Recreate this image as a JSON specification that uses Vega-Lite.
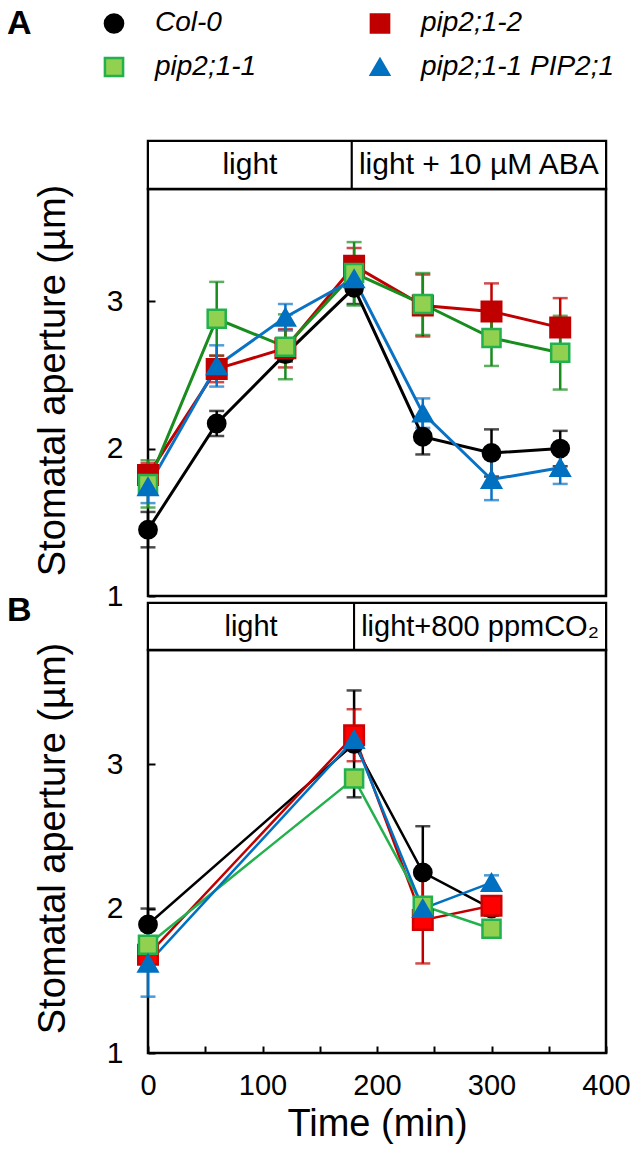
{
  "$schema": "https://vega.github.io/schema/vega-lite/v6.json",
  "padding": {"left": 5, "top": 5, "right": 5, "bottom": 5},
  "background": "white",
  "config": {
    "font": "Liberation Sans",
    "view": {"stroke": "black", "strokeWidth": 2.5},
    "axis": {"domain": false, "grid": false, "labelFlush": false, "tickColor": "black", "tickWidth": 2, "tickSize": -7, "labelFont": "Liberation Sans", "labelFontSize": 30, "labelColor": "black", "titleFont": "Liberation Sans", "titleFontSize": 38, "titleFontWeight": "normal", "titleColor": "black"},
    "title": {"font": "Liberation Sans", "fontSize": 34, "fontWeight": "bold", "color": "black", "anchor": "start", "frame": "group"}
  },
  "datasets": {
    "headA": [
      {"label": "light", "start": 0, "end": 178},
      {"label": "light + 10 µM ABA", "start": 178, "end": 400}
    ],
    "headB": [
      {"label": "light", "start": 0, "end": 180},
      {"label": "light+800 ppmCO₂", "start": 180, "end": 400}
    ],
    "plotA": [
      {"g": "Col-0", "t": 0, "m": 1.45, "lo": 1.33, "hi": 1.57},
      {"g": "Col-0", "t": 60, "m": 2.17, "lo": 2.085, "hi": 2.255},
      {"g": "Col-0", "t": 120, "m": 2.64, "lo": 2.59, "hi": 2.69},
      {"g": "Col-0", "t": 180, "m": 3.09, "lo": 2.98, "hi": 3.2},
      {"g": "Col-0", "t": 240, "m": 2.08, "lo": 1.96, "hi": 2.2},
      {"g": "Col-0", "t": 300, "m": 1.97, "lo": 1.81, "hi": 2.13},
      {"g": "Col-0", "t": 360, "m": 2.0, "lo": 1.88, "hi": 2.12},
      {"g": "pip2;1-2", "t": 0, "m": 1.82, "lo": 1.74, "hi": 1.9},
      {"g": "pip2;1-2", "t": 60, "m": 2.54, "lo": 2.45, "hi": 2.63},
      {"g": "pip2;1-2", "t": 120, "m": 2.68, "lo": 2.55, "hi": 2.81},
      {"g": "pip2;1-2", "t": 180, "m": 3.24, "lo": 3.12, "hi": 3.36},
      {"g": "pip2;1-2", "t": 240, "m": 2.97, "lo": 2.76, "hi": 3.18},
      {"g": "pip2;1-2", "t": 300, "m": 2.93, "lo": 2.74, "hi": 3.12},
      {"g": "pip2;1-2", "t": 360, "m": 2.82, "lo": 2.62, "hi": 3.02},
      {"g": "pip2;1-1", "t": 0, "m": 1.76, "lo": 1.6, "hi": 1.92},
      {"g": "pip2;1-1", "t": 60, "m": 2.88, "lo": 2.63, "hi": 3.13},
      {"g": "pip2;1-1", "t": 120, "m": 2.69, "lo": 2.47, "hi": 2.91},
      {"g": "pip2;1-1", "t": 180, "m": 3.19, "lo": 2.97, "hi": 3.4},
      {"g": "pip2;1-1", "t": 240, "m": 2.98, "lo": 2.77, "hi": 3.19},
      {"g": "pip2;1-1", "t": 300, "m": 2.75, "lo": 2.56, "hi": 2.94},
      {"g": "pip2;1-1", "t": 360, "m": 2.65, "lo": 2.4, "hi": 2.9},
      {"g": "pip2;1-1 PIP2;1", "t": 0, "m": 1.74, "lo": 1.63, "hi": 1.85},
      {"g": "pip2;1-1 PIP2;1", "t": 60, "m": 2.56, "lo": 2.42, "hi": 2.7},
      {"g": "pip2;1-1 PIP2;1", "t": 120, "m": 2.89, "lo": 2.8, "hi": 2.98},
      {"g": "pip2;1-1 PIP2;1", "t": 180, "m": 3.15, "lo": 3.1, "hi": 3.2},
      {"g": "pip2;1-1 PIP2;1", "t": 240, "m": 2.24, "lo": 2.14, "hi": 2.34},
      {"g": "pip2;1-1 PIP2;1", "t": 300, "m": 1.79, "lo": 1.65, "hi": 1.93},
      {"g": "pip2;1-1 PIP2;1", "t": 360, "m": 1.87, "lo": 1.76, "hi": 1.98}
    ],
    "plotB": [
      {"g": "Col-0", "t": 0, "m": 1.89, "lo": 1.78, "hi": 2.0},
      {"g": "Col-0", "t": 180, "m": 3.14, "lo": 2.77, "hi": 3.51},
      {"g": "Col-0", "t": 240, "m": 2.25, "lo": 1.93, "hi": 2.57},
      {"g": "Col-0", "t": 300, "m": 2.0, "lo": 1.95, "hi": 2.05},
      {"g": "pip2;1-2", "t": 0, "m": 1.68, "lo": 1.63, "hi": 1.73},
      {"g": "pip2;1-2", "t": 180, "m": 3.2, "lo": 3.02, "hi": 3.38},
      {"g": "pip2;1-2", "t": 240, "m": 1.92, "lo": 1.62, "hi": 2.22},
      {"g": "pip2;1-2", "t": 300, "m": 2.02, "lo": 1.97, "hi": 2.07},
      {"g": "pip2;1-1", "t": 0, "m": 1.75, "lo": 1.7, "hi": 1.8},
      {"g": "pip2;1-1", "t": 180, "m": 2.9, "lo": 2.85, "hi": 2.95},
      {"g": "pip2;1-1", "t": 240, "m": 2.02, "lo": 1.97, "hi": 2.07},
      {"g": "pip2;1-1", "t": 300, "m": 1.86, "lo": 1.81, "hi": 1.91},
      {"g": "pip2;1-1 PIP2;1", "t": 0, "m": 1.62, "lo": 1.39, "hi": 1.85},
      {"g": "pip2;1-1 PIP2;1", "t": 180, "m": 3.17, "lo": 3.12, "hi": 3.22},
      {"g": "pip2;1-1 PIP2;1", "t": 240, "m": 2.0, "lo": 1.95, "hi": 2.05},
      {"g": "pip2;1-1 PIP2;1", "t": 300, "m": 2.18, "lo": 2.13, "hi": 2.23}
    ]
  },
  "bounds": "flush",
  "spacing": 0,
  "resolve": {"scale": {"color": "independent", "fill": "independent", "stroke": "independent", "shape": "independent"}},
  "vconcat": [
    {
      "width": 458, "height": 48,
      "title": {"text": "A", "dx": -141, "dy": -95},
      "data": {"name": "headA"},
      "transform": [{"calculate": "(datum.start + datum.end) / 2", "as": "mid"}],
      "layer": [
        {"mark": {"type": "rect", "fill": "white", "stroke": "black", "strokeWidth": 2},
         "encoding": {"x": {"field": "start", "type": "quantitative", "scale": {"domain": [0, 400], "nice": false}, "axis": null}, "x2": {"field": "end"}}},
        {"mark": {"type": "text", "fontSize": 30, "color": "black", "font": "Liberation Sans"},
         "encoding": {"x": {"field": "mid", "type": "quantitative", "axis": null}, "text": {"field": "label"}}}
      ]
    },
    {
      "width": 458, "height": 407,
      "data": {"name": "plotA"},
      "encoding": {"x": {"field": "t", "type": "quantitative", "scale": {"domain": [0, 400], "nice": false}, "axis": null}},
      "layer": [
        {"mark": {"type": "errorbar", "ticks": true, "size": 15, "thickness": 2.5},
         "encoding": {
           "y": {"field": "lo", "type": "quantitative", "scale": {"domain": [1, 3.76], "nice": false}, "axis": {"title": "Stomatal aperture (µm)", "values": [1, 1.5, 2, 2.5, 3, 3.5], "format": "d", "labelExpr": "datum.value % 1 === 0 ? datum.label : ''", "labelPadding": 32, "titlePadding": 34, "titleY": 191}},
           "y2": {"field": "hi"},
           "color": {"field": "g", "type": "nominal", "scale": {"range": ["#000000", "#188c1c", "#0a72c4", "#c00000"]}, "legend": null}
         }},
        {"mark": {"type": "line", "strokeWidth": 3},
         "encoding": {
           "y": {"field": "m", "type": "quantitative", "axis": {"title": "Stomatal aperture (µm)", "values": [1, 1.5, 2, 2.5, 3, 3.5], "format": "d", "labelExpr": "datum.value % 1 === 0 ? datum.label : ''", "labelPadding": 32, "titlePadding": 34, "titleY": 191}},
           "color": {"field": "g", "type": "nominal", "legend": null}
         }},
        {"mark": {"type": "point", "filled": true, "opacity": 1, "strokeWidth": 2.5},
         "encoding": {
           "y": {"field": "m", "type": "quantitative", "axis": {"title": "Stomatal aperture (µm)", "values": [1, 1.5, 2, 2.5, 3, 3.5], "format": "d", "labelExpr": "datum.value % 1 === 0 ? datum.label : ''", "labelPadding": 32, "titlePadding": 34, "titleY": 191}},
           "shape": {"field": "g", "type": "nominal", "scale": {"domain": ["Col-0", "pip2;1-2", "pip2;1-1", "pip2;1-1 PIP2;1"], "range": ["circle", "square", "square", "triangle-up"]}},
           "fill": {"field": "g", "type": "nominal", "scale": {"domain": ["Col-0", "pip2;1-2", "pip2;1-1", "pip2;1-1 PIP2;1"], "range": ["#000000", "#c00000", "#92d050", "#0070c0"]},
             "legend": {
               "title": null, "orient": "none", "legendX": -48, "legendY": -180, "columns": 2, "direction": "horizontal", "padding": 0,
               "symbolSize": 330, "symbolStrokeWidth": 2.5, "symbolOpacity": 1, "labelFontSize": 28, "labelFontStyle": "italic", "labelFont": "Liberation Sans", "labelColor": "black", "labelOffset": 27, "columnPadding": 108, "rowPadding": 14, "labelLimit": 400
             }},
           "stroke": {"field": "g", "type": "nominal", "scale": {"domain": ["Col-0", "pip2;1-2", "pip2;1-1", "pip2;1-1 PIP2;1"], "range": ["#000000", "#c00000", "#22b14c", "#0070c0"]}},
           "size": {"field": "g", "type": "ordinal", "scale": {"range": [300, 380, 480, 380]}, "legend": null}
         }}
      ]
    },
    {
      "width": 458, "height": 7,
      "view": {"stroke": null},
      "data": {"values": [{"g": "spacer"}]},
      "mark": {"type": "rect", "opacity": 0},
      "encoding": {}
    },
    {
      "width": 458, "height": 47,
      "title": {"text": "B", "dx": -141, "dy": 30},
      "data": {"name": "headB"},
      "transform": [{"calculate": "(datum.start + datum.end) / 2", "as": "mid"}],
      "layer": [
        {"mark": {"type": "rect", "fill": "white", "stroke": "black", "strokeWidth": 2},
         "encoding": {"x": {"field": "start", "type": "quantitative", "scale": {"domain": [0, 400], "nice": false}, "axis": null}, "x2": {"field": "end"}}},
        {"mark": {"type": "text", "fontSize": 29, "color": "black", "font": "Liberation Sans"},
         "encoding": {"x": {"field": "mid", "type": "quantitative", "axis": null}, "text": {"field": "label"}}}
      ]
    },
    {
      "width": 458, "height": 403,
      "data": {"name": "plotB"},
      "encoding": {"x": {"field": "t", "type": "quantitative", "scale": {"domain": [0, 400], "nice": false}, "axis": {"title": "Time (min)", "values": [0, 50, 100, 150, 200, 250, 300, 350, 400], "labelExpr": "datum.value % 100 === 0 ? datum.label : ''", "labelPadding": 25, "titlePadding": 5, "labelFontSize": 29}}},
      "layer": [
        {"mark": {"type": "errorbar", "ticks": true, "size": 15, "thickness": 2.5},
         "encoding": {
           "y": {"field": "lo", "type": "quantitative", "scale": {"domain": [1, 3.79], "nice": false}, "axis": {"title": "Stomatal aperture (µm)", "values": [1, 1.5, 2, 2.5, 3, 3.5], "format": "d", "labelExpr": "datum.value % 1 === 0 ? datum.label : ''", "labelPadding": 32, "titlePadding": 34, "titleY": 188}},
           "y2": {"field": "hi"},
           "color": {"field": "g", "type": "nominal", "scale": {"range": ["#000000", "#22b14c", "#0070c0", "#c00000"]}, "legend": null}
         }},
        {"mark": {"type": "line", "strokeWidth": 2.5},
         "encoding": {
           "y": {"field": "m", "type": "quantitative", "axis": {"title": "Stomatal aperture (µm)", "values": [1, 1.5, 2, 2.5, 3, 3.5], "format": "d", "labelExpr": "datum.value % 1 === 0 ? datum.label : ''", "labelPadding": 32, "titlePadding": 34, "titleY": 188}},
           "color": {"field": "g", "type": "nominal", "legend": null}
         }},
        {"mark": {"type": "point", "filled": true, "opacity": 1, "strokeWidth": 2.5},
         "encoding": {
           "y": {"field": "m", "type": "quantitative", "axis": {"title": "Stomatal aperture (µm)", "values": [1, 1.5, 2, 2.5, 3, 3.5], "format": "d", "labelExpr": "datum.value % 1 === 0 ? datum.label : ''", "labelPadding": 32, "titlePadding": 34, "titleY": 188}},
           "shape": {"field": "g", "type": "nominal", "scale": {"domain": ["Col-0", "pip2;1-2", "pip2;1-1", "pip2;1-1 PIP2;1"], "range": ["circle", "square", "square", "triangle-up"]}, "legend": null},
           "fill": {"field": "g", "type": "nominal", "scale": {"domain": ["Col-0", "pip2;1-2", "pip2;1-1", "pip2;1-1 PIP2;1"], "range": ["#000000", "#ff0000", "#92d050", "#0070c0"]}, "legend": null},
           "stroke": {"field": "g", "type": "nominal", "scale": {"domain": ["Col-0", "pip2;1-2", "pip2;1-1", "pip2;1-1 PIP2;1"], "range": ["#000000", "#d00000", "#22b14c", "#0070c0"]}, "legend": null},
           "size": {"field": "g", "type": "ordinal", "legend": null}
         }}
      ]
    }
  ]
}
